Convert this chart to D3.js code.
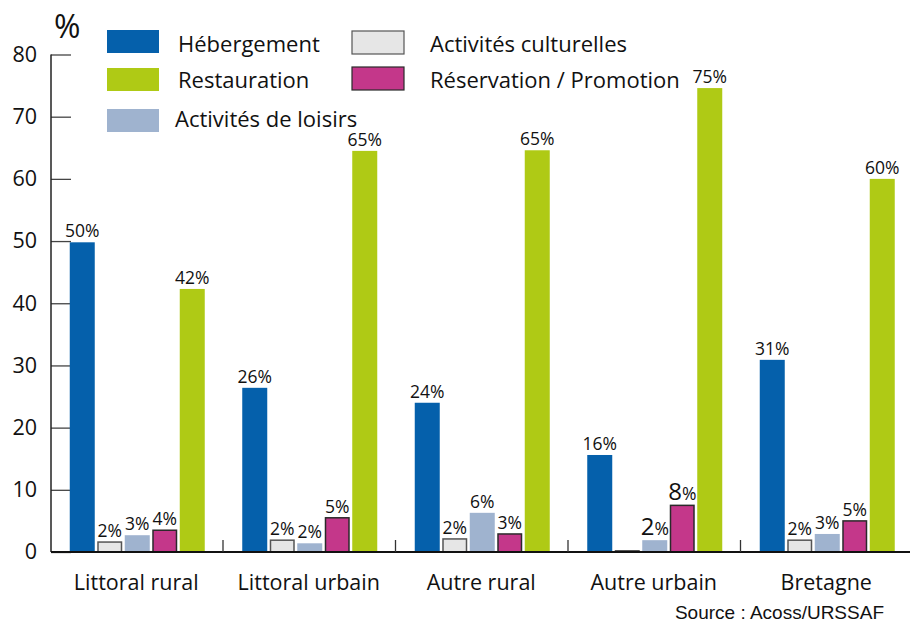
<html>
<head>
<meta charset="utf-8">
<script src="https://d3js.org/d3.v7.min.js"></script>
<style>
body{margin:0;background:#fff;}
text{font-family:"Open Sans",sans-serif;fill:#111;}
</style>
</head>
<body>
<script>
// categories and series
var categories=["Littoral rural","Littoral urbain","Autre rural","Autre urbain","Bretagne"];
var series=["Hébergement","Activités culturelles","Activités de loisirs","Réservation / Promotion","Restauration"];
var colors=["#0560ab","#e6e6e6","#9fb3cf","#c4378a","#afca15"];
var strokes=[null,"#555","","#2a2a2a",null];

// values (bar heights, %)
var hebergement=[49.8,26.4,24,15.6,30.9];
var culturelles=[1.6,1.9,2.1,0.2,1.9];
var loisirs=[2.7,1.4,6.3,1.9,2.9];
var reservation=[3.5,5.5,2.9,7.5,5];
var restauration=[42.3,64.5,64.6,74.6,60];

// printed labels
var lblHebergement=["50%","26%","24%","16%","31%"];
var lblCulturelles=["2%","2%","2%","","2%"];
var lblLoisirs=["3%","2%","6%","2%","3%"];
var lblReservation=["4%","5%","3%","8%","5%"];
var lblRestauration=["42%","65%","65%","75%","60%"];
// labels whose number is set bigger in the original
var bigLabels=[[3,2],[3,3]];

var yTicks=[0,10,20,30,40,50,60,70,80];

var values=[hebergement,culturelles,loisirs,reservation,restauration];
var labels=[lblHebergement,lblCulturelles,lblLoisirs,lblReservation,lblRestauration];

var W=910,H=623;
var svg=d3.select("body").append("svg").attr("width",W).attr("height",H);

var y=d3.scaleLinear().domain([0,80]).range([552,54.5]);
var x=d3.scaleBand().domain(categories).range([51,913.5]);
var xs=d3.scaleBand().domain(d3.range(series.length))
	.range([18.75,153.75]).paddingInner(0.0909).paddingOuter(0);

// y axis
var yAxis=d3.axisLeft(y).tickValues(yTicks).tickSize(-20).tickPadding(14);
var gy=svg.append("g").attr("transform","translate(51,0)").call(yAxis);
gy.select(".domain").remove();
gy.selectAll(".tick line").attr("stroke","#444").attr("stroke-width",1.3);
gy.selectAll(".tick text").attr("font-size",21.5).style("font-family","Open Sans").attr("fill","#111");
svg.append("line").attr("x1",51).attr("x2",51).attr("y1",y(80)).attr("y2",552)
	.attr("stroke","#222").attr("stroke-width",1.5);

svg.append("text").attr("x",54).attr("y",38).attr("font-size",32).text("%");

// bars
var grp=svg.selectAll("g.cat").data(categories).enter().append("g")
	.attr("class","cat").attr("transform",d=>"translate("+x(d)+",0)");

grp.each(function(c,ci){
	var g=d3.select(this);
	series.forEach(function(s,si){
		var v=values[si][ci];
		var st=strokes[si];
		g.append("rect")
			.attr("x",xs(si)+(st?0.75:0))
			.attr("width",xs.bandwidth()-(st?1.5:0))
			.attr("y",y(v))
			.attr("height",y(0)-y(v))
			.attr("fill",colors[si])
			.attr("stroke",st?st:"none")
			.attr("stroke-width",st?1.5:0);
		var lb=labels[si][ci];
		if(lb!=""){
			var big=bigLabels.some(b=>b[0]==ci&&b[1]==si);
			var t=g.append("text")
				.attr("x",xs(si)+xs.bandwidth()/2)
				.attr("y",y(v)-5)
				.attr("text-anchor","middle")
				.attr("font-size",17.5);
			if(big){
				t.append("tspan").attr("font-size",24).text(lb.replace("%",""));
				t.append("tspan").text("%");
			}
			else t.text(lb);
		}
	});
});

// baseline and category separators
svg.append("line").attr("x1",51).attr("x2",910).attr("y1",552).attr("y2",552)
	.attr("stroke","#111").attr("stroke-width",1.8);
svg.selectAll("line.sep").data(categories.slice(1)).enter().append("line")
	.attr("x1",d=>x(d)-0.5).attr("x2",d=>x(d)-0.5)
	.attr("y1",540).attr("y2",552).attr("stroke","#333").attr("stroke-width",1.3);

// category labels
svg.selectAll("text.cat").data(categories).enter().append("text")
	.attr("x",d=>x(d)+x.bandwidth()/2-1)
	.attr("y",590).attr("text-anchor","middle").attr("font-size",21.5)
	.text(d=>d);

svg.append("text").attr("x",884).attr("y",619).attr("text-anchor","end")
	.attr("font-size",19).style("font-family","Liberation Sans, Arial").text("Source : Acoss/URSSAF");

// legend
var legX=[107,107,107,352,352];
var legY=[30,68,109,31,67];
var legTx=[178,178,175,430,430];
var legBase=[52,88,127,52,88];
var legOrder=[0,4,2,1,3];
legOrder.forEach(function(si,i){
	var st=strokes[si];
	svg.append("rect").attr("x",legX[i]).attr("y",legY[i]).attr("width",52).attr("height",23)
		.attr("fill",colors[si]).attr("stroke",st?st:"none").attr("stroke-width",st?1.2:0);
	svg.append("text").attr("x",legTx[i]).attr("y",legBase[i]).attr("font-size",22).text(series[si]);
});
</script>
</body>
</html>
